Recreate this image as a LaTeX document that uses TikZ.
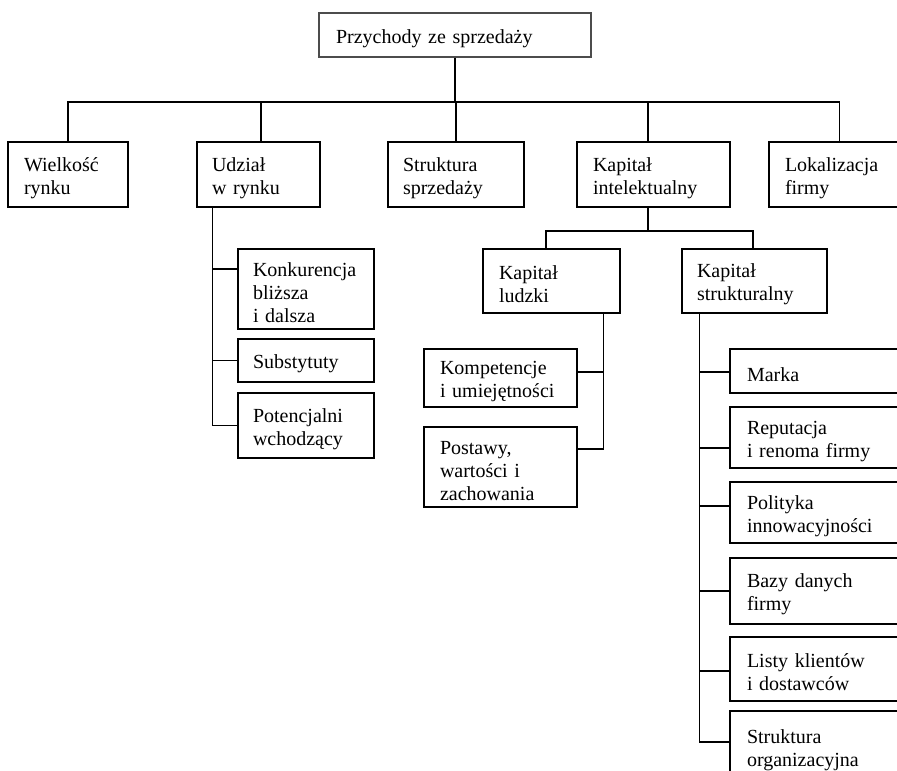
\documentclass[tikz,border=0pt]{standalone}
\usepackage{fontspec}
\setmainfont{Liberation Serif}
\begin{document}
\begin{tikzpicture}[x=1pt,y=-1pt,
  box/.style={draw=black, line width=1.1pt, rectangle, inner sep=0pt, align=left,
    font=\fontsize{20}{23}\selectfont, anchor=center,
    execute at begin node={\rule{0pt}{20.5pt}}},
  conn/.style={line width=1.1pt, draw=black}]
\useasboundingbox (0,0) rectangle (897,771);
\clip (0,0) rectangle (897,771);

% root
\node[box, draw=black!70, minimum width=272pt, minimum height=44pt, text width=238pt] (root) at (455,35) {Przychody ze sprzedaży};

% level 1
\node[box, minimum width=120pt, minimum height=65pt, text width=88pt] (wielk) at (68,174.5) {Wielkość\\rynku};
\node[box, minimum width=123pt, minimum height=65pt, text width=93pt] (udzial) at (258.5,174.5) {Udział\\w rynku};
\node[box, minimum width=136pt, minimum height=65pt, text width=106pt] (struk) at (456,174.5) {Struktura\\sprzedaży};
\node[box, minimum width=153pt, minimum height=65pt, text width=121pt] (kapint) at (653.5,174.5) {Kapitał\\intelektualny};
\node[box, minimum width=141pt, minimum height=65pt, text width=109pt] (lokal) at (839.5,174.5) {Lokalizacja\\firmy};

% under Udzial
\node[box, minimum width=136pt, minimum height=80pt, text width=106pt] (konk) at (306,289) {Konkurencja\\bliższa\\i dalsza};
\node[box, minimum width=136pt, minimum height=43pt, text width=106pt] (subst) at (306,360.5) {Substytuty};
\node[box, minimum width=136pt, minimum height=65pt, text width=106pt] (potenc) at (306,425.5) {Potencjalni\\wchodzący};

% under Kapital intelektualny
\node[box, minimum width=137pt, minimum height=64pt, text width=105pt] (ludzki) at (551.5,281) {Kapitał\\ludzki};
\node[box, minimum width=145pt, minimum height=64pt, text width=115pt] (strukt) at (754.5,281) {Kapitał\\strukturalny};

% under Kapital ludzki
\node[box, minimum width=153pt, minimum height=58pt, text width=121pt] (kompet) at (500.5,378) {Kompetencje\\i umiejętności};
\node[box, minimum width=153pt, minimum height=80pt, text width=121pt] (postawy) at (500.5,467) {Postawy,\\wartości i\\zachowania};

% under Kapital strukturalny
\node[box, minimum width=180pt, minimum height=44pt, text width=146pt] (marka) at (820,371) {Marka};
\node[box, minimum width=180pt, minimum height=61pt, text width=146pt] (reput) at (820,437.5) {Reputacja\\i renoma firmy};
\node[box, minimum width=180pt, minimum height=61pt, text width=146pt] (polit) at (820,512.5) {Polityka\\innowacyjności};
\node[box, minimum width=180pt, minimum height=66pt, text width=146pt] (bazy) at (820,591) {Bazy danych\\firmy};
\node[box, minimum width=180pt, minimum height=64pt, text width=146pt] (listy) at (820,669) {Listy klientów\\i dostawców};
\node[box, minimum width=180pt, minimum height=71pt, text width=146pt] (sorg) at (820,746.5) {Struktura\\organizacyjna};

% top bus
\coordinate (bus) at (455,102);
\draw[conn] (root.south) -- (root.south |- bus);
\draw[conn] (wielk.north) -- (wielk.north |- bus) -- (lokal.north |- bus) -- (lokal.north);
\coordinate (udtop) at ([xshift=2.5pt]udzial.north);
\draw[conn] (udtop) -- (udtop |- bus);
\draw[conn] (struk.north) -- (struk.north |- bus);
\coordinate (kitop) at ([xshift=-5.5pt]kapint.north);
\draw[conn] (kitop) -- (kitop |- bus);

% kapital intelektualny bus
\coordinate (kibot) at ([xshift=-5.5pt]kapint.south);
\coordinate (bus2) at (648,231);
\coordinate (lutop) at ([xshift=-5.5pt]ludzki.north);
\coordinate (sttop) at ([xshift=-1.5pt]strukt.north);
\draw[conn] (kibot) -- (kibot |- bus2);
\draw[conn] (lutop) -- (lutop |- bus2) -- (sttop |- bus2) -- (sttop);

% udzial branch
\coordinate (uv) at ([xshift=16pt]udzial.south west);
\coordinate (kk) at ([yshift=20pt]konk.west);
\draw[conn] (uv) |- (potenc.west);
\draw[conn] (kk) -- (uv |- kk);
\draw[conn] (subst.west) -- (uv |- subst.west);

% ludzki branch
\coordinate (lv) at ([xshift=-17pt]ludzki.south east);
\coordinate (ko) at ([yshift=6pt]kompet.east);
\coordinate (po) at ([yshift=18pt]postawy.east);
\draw[conn] (lv) |- (po);
\draw[conn] (ko) -- (lv |- ko);

% strukturalny branch
\coordinate (sv) at ([xshift=18pt]strukt.south west);
\coordinate (c1) at ([yshift=-1pt]marka.west);
\coordinate (c2) at ([yshift=-10.5pt]reput.west);
\coordinate (c3) at ([yshift=6.5pt]polit.west);
\coordinate (c4) at (bazy.west);
\coordinate (c5) at ([yshift=-2pt]listy.west);
\coordinate (c6) at ([yshift=4.5pt]sorg.west);
\draw[conn] (sv) |- (c6);
\foreach \c in {c1,c2,c3,c4,c5} \draw[conn] (\c) -- (sv |- \c);
\end{tikzpicture}
\end{document}
